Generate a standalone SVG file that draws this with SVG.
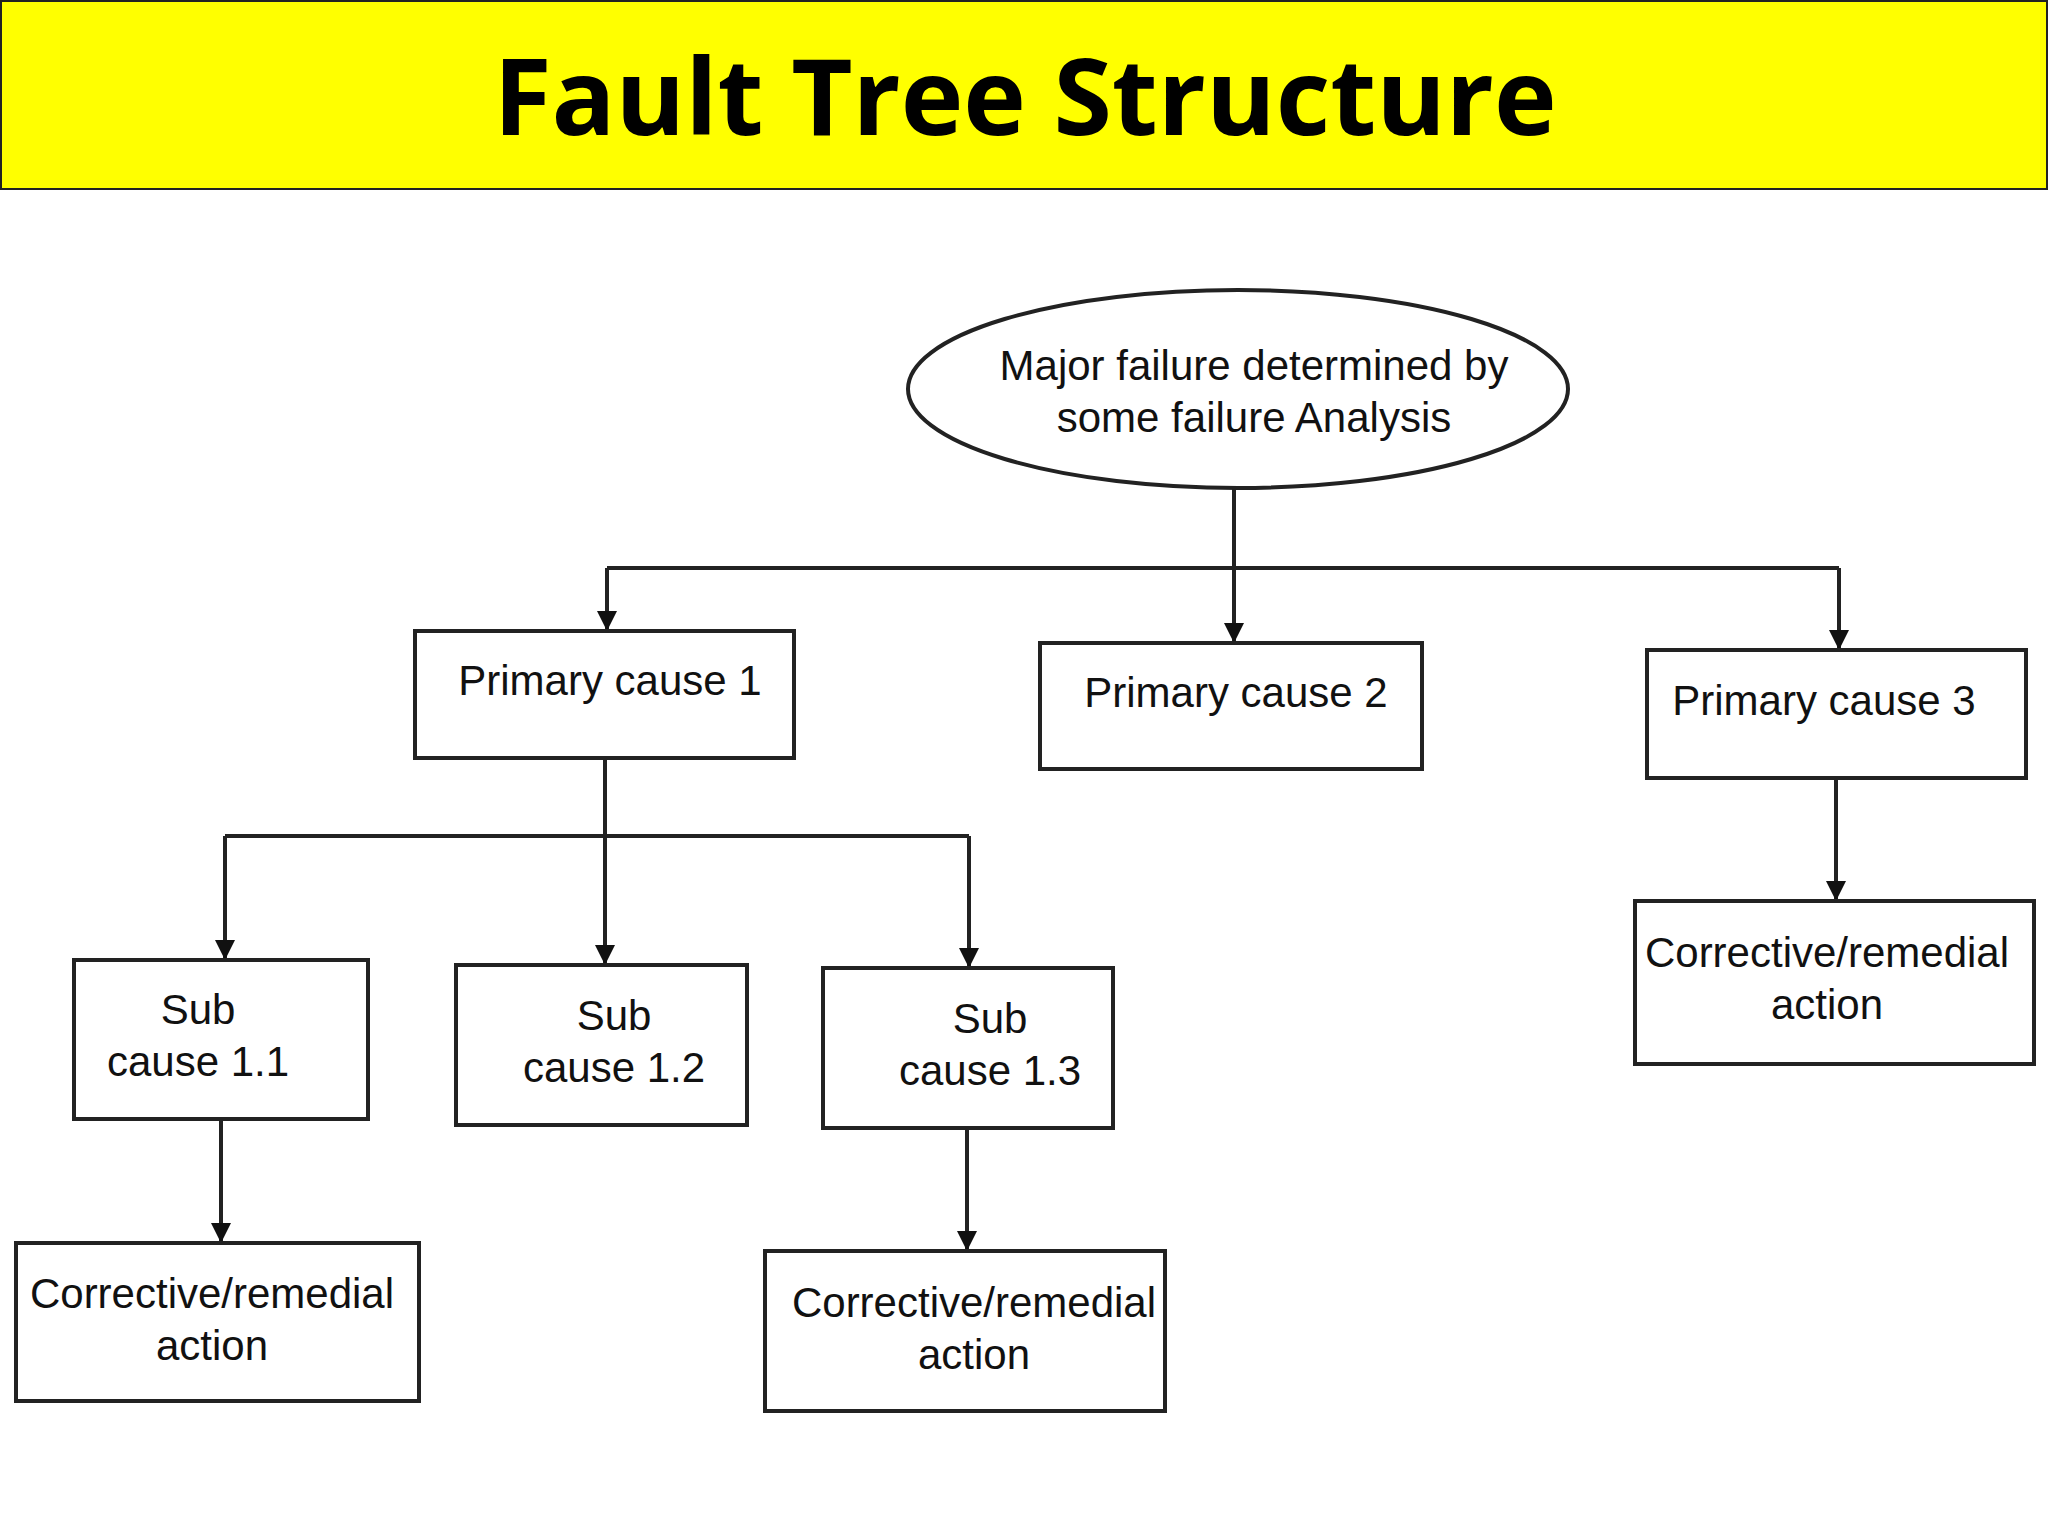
<svg xmlns="http://www.w3.org/2000/svg" width="2048" height="1536" viewBox="0 0 2048 1536">
<defs>
<marker id="ah" viewBox="0 0 10 10" refX="10" refY="5" markerWidth="5" markerHeight="6" markerUnits="strokeWidth" orient="auto"><path d="M0,0 L10,5 L0,10 z" fill="#111"/></marker>
<style>
.box{fill:#fff;stroke:#222;stroke-width:4}
.t{font-family:"Liberation Sans",Arial,sans-serif;font-size:42px;fill:#111;text-anchor:middle}
.c{fill:none;stroke:#222;stroke-width:4}
.a{fill:none;stroke:#222;stroke-width:4;marker-end:url(#ah)}
</style>
</defs>
<rect width="2048" height="1536" fill="#fff"/>
<g id="title"><rect x="1" y="1" width="2046" height="188" fill="#ffff00" stroke="#222" stroke-width="2"/>
<text x="1025" y="135" font-family="'Open Sans','Liberation Sans',sans-serif" font-weight="bold" font-size="106" text-anchor="middle" fill="#000">Fault Tree Structure</text></g>
<g id="connectors">
<path class="c" d="M1234,489 V568 M607,568 H1839 M605,758 V836 M225,836 H969"/>
<path class="a" d="M607,568 V631"/>
<path class="a" d="M1234,568 V643"/>
<path class="a" d="M1839,568 V650"/>
<path class="a" d="M225,836 V960"/>
<path class="a" d="M605,836 V965"/>
<path class="a" d="M969,836 V968"/>
<path class="a" d="M221,1119 V1243"/>
<path class="a" d="M967,1128 V1251"/>
<path class="a" d="M1836,778 V901"/>
</g>
<g id="top"><ellipse cx="1238" cy="389" rx="330" ry="99" class="box"/>
<text class="t" x="1254" y="380">Major failure determined by</text><text class="t" x="1254" y="432">some failure Analysis</text></g>
<g id="p1"><rect class="box" x="415" y="631" width="379" height="127"/><text class="t" x="610" y="695">Primary cause 1</text></g>
<g id="p2"><rect class="box" x="1040" y="643" width="382" height="126"/><text class="t" x="1236" y="707">Primary cause 2</text></g>
<g id="p3"><rect class="box" x="1647" y="650" width="379" height="128"/><text class="t" x="1824" y="715">Primary cause 3</text></g>
<g id="s1"><rect class="box" x="74" y="960" width="294" height="159"/><text class="t" x="198" y="1024">Sub</text><text class="t" x="198" y="1076">cause 1.1</text></g>
<g id="s2"><rect class="box" x="456" y="965" width="291" height="160"/><text class="t" x="614" y="1030">Sub</text><text class="t" x="614" y="1082">cause 1.2</text></g>
<g id="s3"><rect class="box" x="823" y="968" width="290" height="160"/><text class="t" x="990" y="1033">Sub</text><text class="t" x="990" y="1085">cause 1.3</text></g>
<g id="c1"><rect class="box" x="16" y="1243" width="403" height="158"/><text class="t" x="212" y="1308">Corrective/remedial</text><text class="t" x="212" y="1360">action</text></g>
<g id="c3"><rect class="box" x="765" y="1251" width="400" height="160"/><text class="t" x="974" y="1317">Corrective/remedial</text><text class="t" x="974" y="1369">action</text></g>
<g id="cp3"><rect class="box" x="1635" y="901" width="399" height="163"/><text class="t" x="1827" y="967">Corrective/remedial</text><text class="t" x="1827" y="1019">action</text></g>
</svg>
